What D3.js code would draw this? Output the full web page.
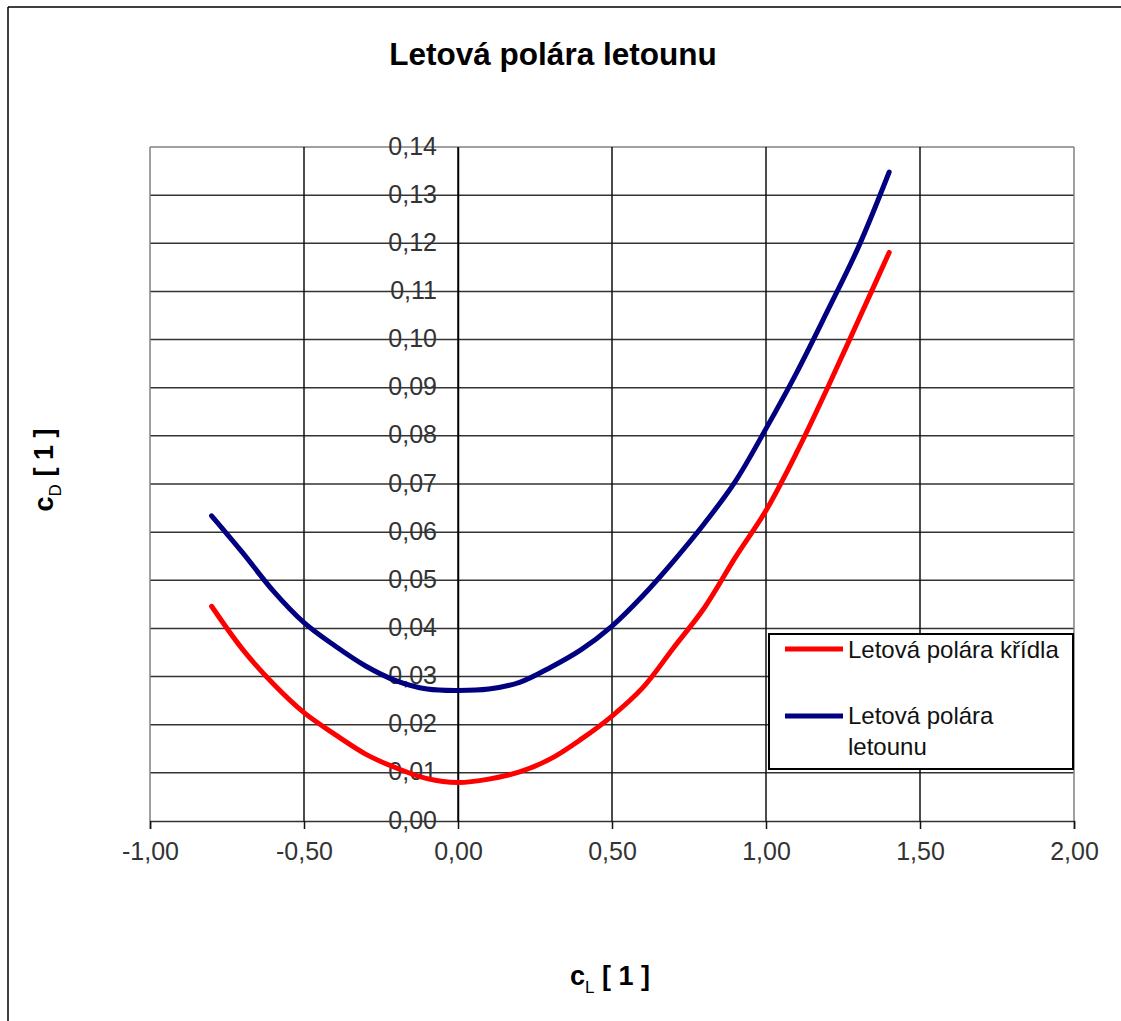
<!DOCTYPE html>
<html><head><meta charset="utf-8">
<script src="https://cdn.jsdelivr.net/npm/d3@7"></script>
<style>
html,body{margin:0;padding:0;background:#fff;}
svg{display:block;font-family:"Liberation Sans",Arial,sans-serif;}
</style></head>
<body>
<svg id="chart" width="1121" height="1021"></svg>
<script>
// Data
const cL = [-0.8,-0.7,-0.6,-0.5,-0.4,-0.3,-0.2,-0.1,0.0,0.1,0.2,0.3,0.4,0.5,0.6,0.7,0.8,0.9,1.0,1.1,1.2,1.3,1.4];
const cdWing = [0.0446,0.0357,0.0285,0.0225,0.0180,0.0139,0.0110,0.0088,0.0080,0.0087,0.0102,0.0129,0.0170,0.0218,0.0277,0.0360,0.0443,0.0547,0.0645,0.0766,0.0900,0.1040,0.1181];
const cdPlane = [0.0634,0.0558,0.0478,0.0412,0.0364,0.0322,0.0291,0.0274,0.0271,0.0274,0.0288,0.0319,0.0356,0.0405,0.0468,0.0540,0.0618,0.0705,0.0815,0.0932,0.1060,0.1192,0.1348];
const seriesNames = ["Letová polára křídla", "Letová polára letounu"];
const seriesColors = ["#ff0000", "#000080"];
const xTicks = [-1.0,-0.5,0.0,0.5,1.0,1.5,2.0];
const yTicks = [0,0.01,0.02,0.03,0.04,0.05,0.06,0.07,0.08,0.09,0.10,0.11,0.12,0.13,0.14];
const titleText = "Letová polára letounu";

const svg = d3.select("#chart");
const fmt = v => d3.format(".2f")(v).replace(".", ",").replace("−","-");

// outer chart frame (left & top visible)
svg.append("line").attr("x1",8).attr("y1",7).attr("x2",1121).attr("y2",7).attr("stroke","#000").attr("stroke-width",1.5);
svg.append("line").attr("x1",8).attr("y1",7).attr("x2",8).attr("y2",1021).attr("stroke","#000").attr("stroke-width",1.5);

const L = 150, R = 1074, T = 147, B = 821;
const x = d3.scaleLinear().domain([-1,2]).range([L,R]);
const y = d3.scaleLinear().domain([0,0.14]).range([B,T]);

// horizontal gridlines
svg.append("g").selectAll("line").data(yTicks.slice(1)).join("line")
  .attr("x1",L).attr("x2",R).attr("y1",d=>y(d)).attr("y2",d=>y(d))
  .attr("stroke",d=>d===0.14?"#808080":"#333").attr("stroke-width",1.5);
// vertical gridlines
svg.append("g").selectAll("line").data(xTicks.slice(1)).join("line")
  .attr("x1",d=>x(d)).attr("x2",d=>x(d)).attr("y1",T).attr("y2",B)
  .attr("stroke",d=>d===2?"#808080":"#111").attr("stroke-width",1.5);
// left plot edge
svg.append("line").attr("x1",L).attr("x2",L).attr("y1",T).attr("y2",B).attr("stroke","#808080").attr("stroke-width",1.5);

// x axis
const xAxis = d3.axisBottom(x).tickValues(xTicks).tickFormat(fmt).tickSize(8).tickPadding(13);
const gx = svg.append("g").attr("transform",`translate(0,${B})`).call(xAxis);
gx.select(".domain").attr("stroke","#333").attr("stroke-width",1.5);
gx.selectAll(".tick line").attr("stroke","#111").attr("stroke-width",1.5);
gx.selectAll(".tick text").attr("font-size",25).attr("fill","#333")
  .attr("font-family","'Liberation Sans',Arial,sans-serif");

// y axis at x=0
const yAxis = d3.axisLeft(y).tickValues(yTicks).tickFormat(fmt).tickSize(0).tickPadding(21);
const gy = svg.append("g").attr("transform",`translate(${x(0)},0)`).call(yAxis);
gy.select(".domain").attr("stroke","#000").attr("stroke-width",1.5);
gy.selectAll(".tick text").attr("font-size",25).attr("fill","#333").attr("dy","0.28em")
  .attr("font-family","'Liberation Sans',Arial,sans-serif");

// curves
const line = d3.line().x(d=>x(d[0])).y(d=>y(d[1])).curve(d3.curveCatmullRom.alpha(0.5));
[cdWing, cdPlane].forEach((vals,i)=>{
  svg.append("path").datum(cL.map((c,j)=>[c,vals[j]]))
    .attr("d",line).attr("fill","none").attr("stroke",seriesColors[i])
    .attr("stroke-width",5).attr("stroke-linejoin","round").attr("stroke-linecap","round");
});

// legend
const lg = svg.append("g");
lg.append("rect").attr("x",769).attr("y",634).attr("width",304).attr("height",135)
  .attr("fill","#fff").attr("stroke","#000").attr("stroke-width",2);
const legY = [649, 716];
seriesNames.forEach((n,i)=>{
  lg.append("line").attr("x1",785).attr("x2",843).attr("y1",legY[i]).attr("y2",legY[i])
    .attr("stroke",seriesColors[i]).attr("stroke-width",5);
});
lg.append("text").attr("x",848).attr("y",658).attr("font-size",24).attr("fill","#111").text(seriesNames[0]);
const t2 = lg.append("text").attr("x",848).attr("y",724).attr("font-size",24).attr("fill","#111");
t2.append("tspan").attr("x",848).text("Letová polára");
t2.append("tspan").attr("x",848).attr("y",755).text("letounu");

// title
svg.append("text").attr("x",553).attr("y",65).attr("text-anchor","middle")
  .attr("font-size",31.5).attr("font-weight","bold").text(titleText);

// axis titles
const xl = svg.append("text").attr("x",610).attr("y",985).attr("text-anchor","middle")
  .attr("font-size",27).attr("font-weight","bold");
xl.append("tspan").text("c");
xl.append("tspan").attr("font-size",17).attr("font-weight","normal").attr("dy",8).text("L");
xl.append("tspan").attr("dy",-8).text(" [ 1 ]");

const yl = svg.append("text").attr("transform","translate(53,470) rotate(-90)").attr("text-anchor","middle")
  .attr("font-size",27).attr("font-weight","bold");
yl.append("tspan").text("c");
yl.append("tspan").attr("font-size",17).attr("font-weight","normal").attr("dy",8).text("D");
yl.append("tspan").attr("dy",-8).text(" [ 1 ]");
</script>
</body></html>
